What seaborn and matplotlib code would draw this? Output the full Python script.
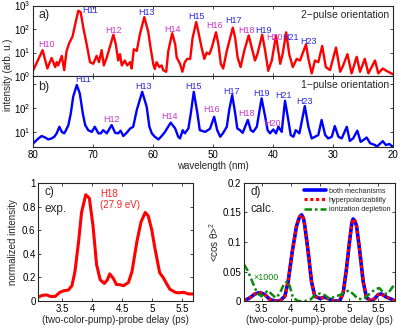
import numpy as np
import pandas as pd
import matplotlib
matplotlib.use("Agg")
import matplotlib.pyplot as plt
import seaborn as sns
from matplotlib.ticker import NullLocator, FixedLocator

# ---------------- data ----------------
# panel a: 2-pulse orientation spectrum (wavelength nm, log10 intensity)
a_wl = [79.95, 78.4, 77.6, 76.9, 76.3, 76.05, 75.8, 75.2, 74.8, 74.4, 73.95, 73.4, 73.0, 72.45, 72.05, 71.6, 71.05, 70.5,
        69.95, 69.4, 69.0, 68.55, 68.2, 67.7, 66.6, 66.2, 65.8, 65.5, 65.2, 64.7, 64.3, 63.8, 63.55, 63.2, 62.7, 62.2, 61.45, 60.8, 60.4,
        59.95, 59.7, 59.4, 58.95, 58.55, 58.3, 57.8, 57.45, 56.8, 56.3, 56.05, 55.5, 55.1, 54.7, 54.3, 53.8, 53.4, 52.8, 52.45, 51.9, 51.45, 51.05, 50.6, 50.2,
        49.5, 49.1, 48.7, 48.3, 47.7, 46.7, 46.3, 45.9, 45.4, 44.8, 44.05, 43.55, 43.0, 42.6, 41.8, 41.3, 40.8, 40.2,
        39.5, 38.8, 38.4, 37.8, 37.3, 36.7, 36.05, 35.5, 34.5, 34.1, 33.55, 33.0, 32.45, 31.8, 31.2, 30.5,
        29.5, 28.8, 28.3, 27.6, 26.9, 26.05, 25.5, 24.7, 24.1, 23.0, 22.45, 21.7, 21.3, 20.8, 20.05]
a_log = [0.25, 1.10, 0.32, 0.77, 0.38, 0.59, 0.45, 0.86, 0.25, 1.07, 1.41, 1.69, 2.17, 2.78, 2.72, 2.03, 1.35, 0.59,
         0.52, 0.86, 0.59, 1.10, 0.45, 0.79, 1.76, 1.35, 0.66, 0.93, 0.45, 0.66, 0.45, 0.59, 0.32, 1.14, 1.07, 1.76, 2.51, 1.89, 1.2,
         0.5, 0.3, 0.59, 0.38, 0.45, 0.25, 0.18, 1.07, 1.82, 1.35, 0.79, 0.52, 0.18, 0.59, 0.73, 0.73, 1.62, 2.30, 1.89, 1.21, 0.73, 1.0, 0.93, 1.21,
         1.86, 1.35, 0.52, 0.32, 1.07, 2.06, 1.62, 0.79, 0.38, 1.07, 1.73, 1.21, 0.66, 0.93, 1.76, 1.07, 0.22, 0.66,
         1.73, 0.52, 0.93, 1.86, 0.93, 0.38, 0.73, 0.66, 1.35, 0.73, 0.11, 0.66, 0.59, 1.28, 0.38, 0.25,
         1.21, 0.18, 0.45, 0.93, 0.11, 0.82, 0.18, 0.73, 0.11, 0.66, 0.11, 0.32, 0.25, 0.18, 0.08]

# panel b: 1-pulse orientation spectrum
b_wl = [79.95, 79.1, 78.55, 78.0, 77.45, 76.9, 76.45, 76.05, 75.6, 75.2, 74.8, 74.5, 74.1, 73.7, 73.3, 72.7, 72.2, 71.7, 71.3, 70.8, 70.2,
        69.7, 69.1, 68.7, 68.3, 67.7, 66.9, 66.3, 65.8, 65.4, 64.95, 64.4, 63.8, 63.3, 62.7, 61.8, 61.05, 60.6, 60.2,
        59.7, 59.1, 58.55, 58.0, 57.05, 56.3, 55.8, 55.5, 55.05, 54.7, 54.1, 53.7, 53.2, 52.6, 52.2, 51.3, 50.5,
        49.8, 49.3, 48.8, 48.3, 47.7, 47.3, 46.8, 46.3, 45.95, 45.5, 45.05, 44.2, 43.7, 43.3, 42.7, 41.9, 41.3, 40.9, 40.5,
        39.95, 39.5, 39.1, 38.55, 38.0, 37.45, 37.05, 36.6, 36.2, 35.6, 34.7, 34.1, 33.55, 33.0, 32.45, 31.9, 31.3, 30.8, 30.2,
        29.7, 29.1, 28.55, 27.7, 27.2, 26.65, 25.95, 25.4, 24.95, 24.4, 23.8, 23.0, 22.7, 21.7, 21.2, 20.6, 20.05]
b_log = [0.55, 0.75, 0.85, 0.79, 0.71, 0.75, 0.82, 0.96, 1.23, 1.02, 0.96, 1.09, 1.30, 1.78, 2.47, 2.95, 2.60, 1.78, 1.30, 1.09, 1.02,
         1.23, 0.96, 0.96, 1.09, 0.96, 1.30, 0.98, 0.96, 1.07, 0.85, 0.98, 1.16, 1.23, 1.92, 2.67, 2.05, 1.23, 0.96,
         0.82, 0.71, 0.85, 1.02, 1.40, 1.16, 0.82, 0.75, 1.09, 0.96, 1.16, 1.78, 2.67, 1.78, 1.09, 1.02, 1.15,
         1.64, 1.09, 0.82, 0.98, 1.23, 1.92, 2.53, 1.78, 1.16, 1.09, 0.98, 1.51, 1.09, 1.02, 1.23, 2.40, 1.64, 1.09, 0.96,
         1.12, 0.96, 1.23, 1.02, 2.30, 1.51, 0.89, 0.82, 1.09, 0.96, 2.08, 1.23, 0.75, 0.82, 0.89, 1.51, 0.89, 0.75, 0.82,
         1.26, 0.82, 0.75, 1.23, 0.65, 0.75, 1.07, 0.61, 0.68, 0.79, 0.55, 0.48, 0.41, 0.64, 0.48, 0.52, 0.41]

# harmonic labels: (name, wavelength, log10 position)
a_labels = ["H10", "H11", "H12", "H13", "H14", "H15", "H16", "H17", "H18", "H19", "H20", "H21", "H23"]
a_lab_wl = [77.7, 70.5, 66.6, 61.05, 56.7, 52.8, 49.7, 46.6, 44.4, 41.6, 39.8, 37.1, 34.1]
a_lab_lg = [1.35, 2.78, 1.92, 2.72, 2.0, 2.55, 2.14, 2.37, 1.92, 1.96, 1.62, 1.65, 1.48]
b_labels = ["H11", "H12", "H13", "H14", "H15", "H16", "H17", "H18", "H19", "H20", "H21", "H23"]
b_lab_wl = [71.7, 66.9, 61.5, 57.2, 53.3, 50.2, 46.9, 44.4, 42.0, 40.05, 38.3, 34.7]
b_lab_lg = [3.17, 1.53, 2.9, 1.64, 2.88, 1.95, 2.67, 1.78, 2.58, 1.37, 2.53, 2.26]

# panel c: experiment H18
c_delay = [3.1, 3.16, 3.24, 3.3, 3.38, 3.46, 3.53, 3.6, 3.66, 3.71, 3.77, 3.82, 3.89, 3.95, 4.01, 4.07, 4.13, 4.2, 4.25, 4.29,
           4.35, 4.4, 4.46, 4.52, 4.6, 4.66, 4.74, 4.81, 4.88, 4.93, 4.99, 5.04, 5.12, 5.18, 5.24, 5.29, 5.38, 5.43, 5.52, 5.6, 5.67]
c_int = [0.033, 0.047, 0.052, 0.039, 0.039, 0.074, 0.088, 0.093, 0.13, 0.25, 0.50, 0.75, 0.90, 0.87, 0.64, 0.31, 0.18, 0.149, 0.18, 0.23,
         0.19, 0.14, 0.138, 0.13, 0.157, 0.25, 0.50, 0.67, 0.75, 0.72, 0.60, 0.45, 0.24, 0.198, 0.143, 0.10, 0.074, 0.069, 0.074, 0.06, 0.06]

# panel d: calculation
d_delay = [3.2, 3.3, 3.386, 3.47, 3.557, 3.64, 3.73, 3.81, 3.9, 3.957, 4.026, 4.1, 4.15, 4.186, 4.22, 4.243, 4.3, 4.357, 4.414, 4.5,
           4.586, 4.67, 4.757, 4.84, 4.9, 4.957, 5.014, 5.05, 5.07, 5.1, 5.13, 5.186, 5.243, 5.3, 5.386, 5.454, 5.5, 5.557, 5.64, 5.73, 5.79]
d_both = [0, 0.0055, 0.012, 0.0144, 0.011, 0.003, 0, 0, 0.008, 0.033, 0.083, 0.127, 0.142, 0.146, 0.14, 0.127, 0.083, 0.033, 0.008, 0.0044,
          0.0066, 0.003, 0, 0, 0.0138, 0.055, 0.105, 0.133, 0.139, 0.136, 0.127, 0.083, 0.033, 0.0055, 0, 0.0055, 0.011, 0.012, 0.0066, 0.003, 0]
d_hyper = [0, 0.0055, 0.012, 0.0144, 0.011, 0.003, 0, 0, 0.008, 0.033, 0.083, 0.127, 0.142, 0.146, 0.14, 0.127, 0.083, 0.033, 0.008, 0.0044,
           0.0066, 0.003, 0, 0, 0.0138, 0.055, 0.105, 0.133, 0.139, 0.136, 0.127, 0.083, 0.033, 0.0055, 0, 0.0055, 0.011, 0.012, 0.0066, 0.003, 0]
g_delay = [3.2, 3.26, 3.33, 3.386, 3.44, 3.5, 3.557, 3.614, 3.67, 3.74, 3.81, 3.89, 3.946, 3.986, 4.04, 4.13, 4.24, 4.346, 4.414, 4.5,
           4.586, 4.67, 4.757, 4.84, 4.93, 5.0, 5.07, 5.15, 5.25, 5.35, 5.45, 5.52, 5.6, 5.66, 5.72, 5.79]
g_ion = [0.062, 0.052, 0.036, 0.022, 0.012, 0.008, 0.0138, 0.0177, 0.012, 0.0055, 0.012, 0.030, 0.033, 0.025, 0.0055, 0, 0, 0.003, 0.01, 0.0127,
         0.01, 0.003, 0.008, 0.01, 0.015, 0.018, 0.012, 0.004, 0.003, 0.012, 0.02, 0.022, 0.013, 0.012, 0.02, 0.03]

# ---------------- style ----------------
sns.set_style("ticks", {"xtick.direction": "in", "ytick.direction": "in"})
plt.rcParams["font.family"] = ["Liberation Sans", "DejaVu Sans"]
plt.rcParams.update({
    "mathtext.fontset": "custom", "mathtext.rm": "Liberation Sans",
    "mathtext.it": "Liberation Sans:italic", "mathtext.bf": "Liberation Sans:bold",
    "font.size": 7, "axes.linewidth": 0.8, "axes.edgecolor": "#262626",
    "xtick.major.size": 2.5, "ytick.major.size": 2.5,
    "xtick.major.width": 0.6, "ytick.major.width": 0.6,
    "xtick.major.pad": 2.0, "ytick.major.pad": 2.0,
    "xtick.top": True, "ytick.right": True,
    "xtick.labelsize": 7, "ytick.labelsize": 7,
    "xtick.color": "#262626", "ytick.color": "#262626",
    "xtick.labelcolor": "black", "ytick.labelcolor": "black",
})

ODD = "#2a2ae6"
EVEN = "#cc33cc"

fig = plt.figure(figsize=(4.15, 3.29), dpi=100)
ax_a = fig.add_axes([0.0795, 0.769, 0.8675, 0.214])
ax_b = fig.add_axes([0.0795, 0.553, 0.8675, 0.216])
ax_c = fig.add_axes([0.0923, 0.085, 0.372, 0.359])
ax_d = fig.add_axes([0.588, 0.085, 0.364, 0.359])

# panel a
df_a = pd.DataFrame({"wl": a_wl, "I": 10 ** np.array(a_log)})
sns.lineplot(data=df_a, x="wl", y="I", ax=ax_a, color="#ff0000", lw=1.7, sort=False, estimator=None)
ax_a.set_yscale("log")
ax_a.set_xlim(80, 20)
ax_a.set_ylim(1, 1000)
ax_a.yaxis.set_major_locator(FixedLocator([1, 10, 100, 1000]))
ax_a.yaxis.set_minor_locator(NullLocator())
ax_a.set_xticks([80, 70, 60, 50, 40, 30, 20])
ax_a.tick_params(axis="x", labelbottom=False)
ax_a.set_xlabel("")
ax_a.set_ylabel("")
for n, w, l in zip(a_labels, a_lab_wl, a_lab_lg):
    num = int(n[1:])
    ax_a.text(w, 10 ** l, n, color=ODD if num % 2 else EVEN, ha="center", va="center", fontsize=6.5)
ax_a.text(0.015, 0.86, "a)", transform=ax_a.transAxes, fontsize=9, ha="left", va="center")
ax_a.text(0.99, 0.86, "2\u2212pulse orientation", transform=ax_a.transAxes, fontsize=7.5, ha="right", va="center")

# panel b
df_b = pd.DataFrame({"wl": b_wl, "I": 10 ** np.array(b_log)})
sns.lineplot(data=df_b, x="wl", y="I", ax=ax_b, color="#0000ff", lw=1.7, sort=False, estimator=None)
ax_b.set_yscale("log")
ax_b.set_xlim(80, 20)
ax_b.set_ylim(10 ** 0.395, 10 ** 3.32)
ax_b.yaxis.set_major_locator(FixedLocator([10, 100, 1000]))
ax_b.yaxis.set_minor_locator(NullLocator())
ax_b.set_yticklabels([r"$\mathdefault{10^{1}}$", r"$\mathdefault{10^{2}}$", ""])
ax_b.set_xticks([80, 70, 60, 50, 40, 30, 20])
ax_b.set_xlabel("wavelength (nm)", fontsize=7, labelpad=1)
ax_b.set_ylabel("")
for n, w, l in zip(b_labels, b_lab_wl, b_lab_lg):
    num = int(n[1:])
    ax_b.text(w, 10 ** l, n, color=ODD if num % 2 else EVEN, ha="center", va="center", fontsize=6.5)
ax_b.text(0.015, 0.85, "b)", transform=ax_b.transAxes, fontsize=9, ha="left", va="center")
ax_b.text(0.99, 0.87, "1\u2212pulse orientation", transform=ax_b.transAxes, fontsize=7.5, ha="right", va="center")
fig.text(0.019, 0.772, "intensity (arb. u.)", rotation=90, ha="center", va="center", fontsize=7)

# panel c
df_c = pd.DataFrame({"delay": c_delay, "I": c_int})
sns.lineplot(data=df_c, x="delay", y="I", ax=ax_c, color="#ff0000", lw=2.2, sort=False, estimator=None)
ax_c.set_xlim(3.1, 5.67)
ax_c.set_ylim(0, 1)
ax_c.set_xticks([3.5, 4, 4.5, 5, 5.5])
ax_c.set_xticklabels(["3.5", "4", "4.5", "5", "5.5"])
ax_c.set_yticks([0, 0.2, 0.4, 0.6, 0.8, 1])
ax_c.set_yticklabels(["0", "0.2", "0.4", "0.6", "0.8", "1"])
ax_c.set_xlabel("(two-color-pump)-probe delay (ps)", fontsize=7, labelpad=0.5)
ax_c.set_ylabel("normalized intensity", fontsize=7, labelpad=3)
ax_c.text(0.04, 0.92, "c)", transform=ax_c.transAxes, fontsize=8.5, ha="left", va="center")
ax_c.text(0.04, 0.78, "exp.", transform=ax_c.transAxes, fontsize=8.5, ha="left", va="center")
ax_c.text(4.13, 0.86, "H18\n(27.9 eV)", color="#ff2020", fontsize=7, ha="left", va="center", linespacing=1.2)

# panel d
sns.lineplot(x=d_delay, y=d_both, ax=ax_d, color="#0000ff", lw=2.6, sort=False, estimator=None, label="both mechanisms")
sns.lineplot(x=d_delay, y=d_hyper, ax=ax_d, color="#ff0000", lw=2.2, sort=False, estimator=None,
             linestyle=(0, (1.0, 0.9)), label="hyperpolarizability")
sns.lineplot(x=g_delay, y=g_ion, ax=ax_d, color="#0a8a0a", lw=1.8, sort=False, estimator=None,
             linestyle=(0, (3, 1.2, 1, 1.2)), label="ionization depletion")
ax_d.set_xlim(3.2, 5.79)
ax_d.set_ylim(0, 0.2)
ax_d.set_xticks([3.5, 4, 4.5, 5, 5.5])
ax_d.set_xticklabels(["3.5", "4", "4.5", "5", "5.5"])
ax_d.set_yticks([0, 0.05, 0.1, 0.15, 0.2])
ax_d.set_yticklabels(["0", "0.05", "0.1", "0.15", "0.2"])
ax_d.set_xlabel("(two-color-pump)-probe delay (ps)", fontsize=7, labelpad=0.5)
ax_d.set_ylabel("<cos \u03b8>$^2$", fontsize=7, labelpad=1)
ax_d.text(0.04, 0.92, "d)", transform=ax_d.transAxes, fontsize=8.5, ha="left", va="center")
ax_d.text(0.04, 0.78, "calc.", transform=ax_d.transAxes, fontsize=8.5, ha="left", va="center")
ax_d.text(3.58, 0.04, "\u00d71000", color="#0a8a0a", fontsize=6.5, ha="center", va="center")
leg = ax_d.legend(loc="upper right", fontsize=5.2, frameon=False, handlelength=3.0, handletextpad=0.4,
                  labelspacing=0.3, borderaxespad=0.25)

fig.savefig("out.png", dpi=100)
